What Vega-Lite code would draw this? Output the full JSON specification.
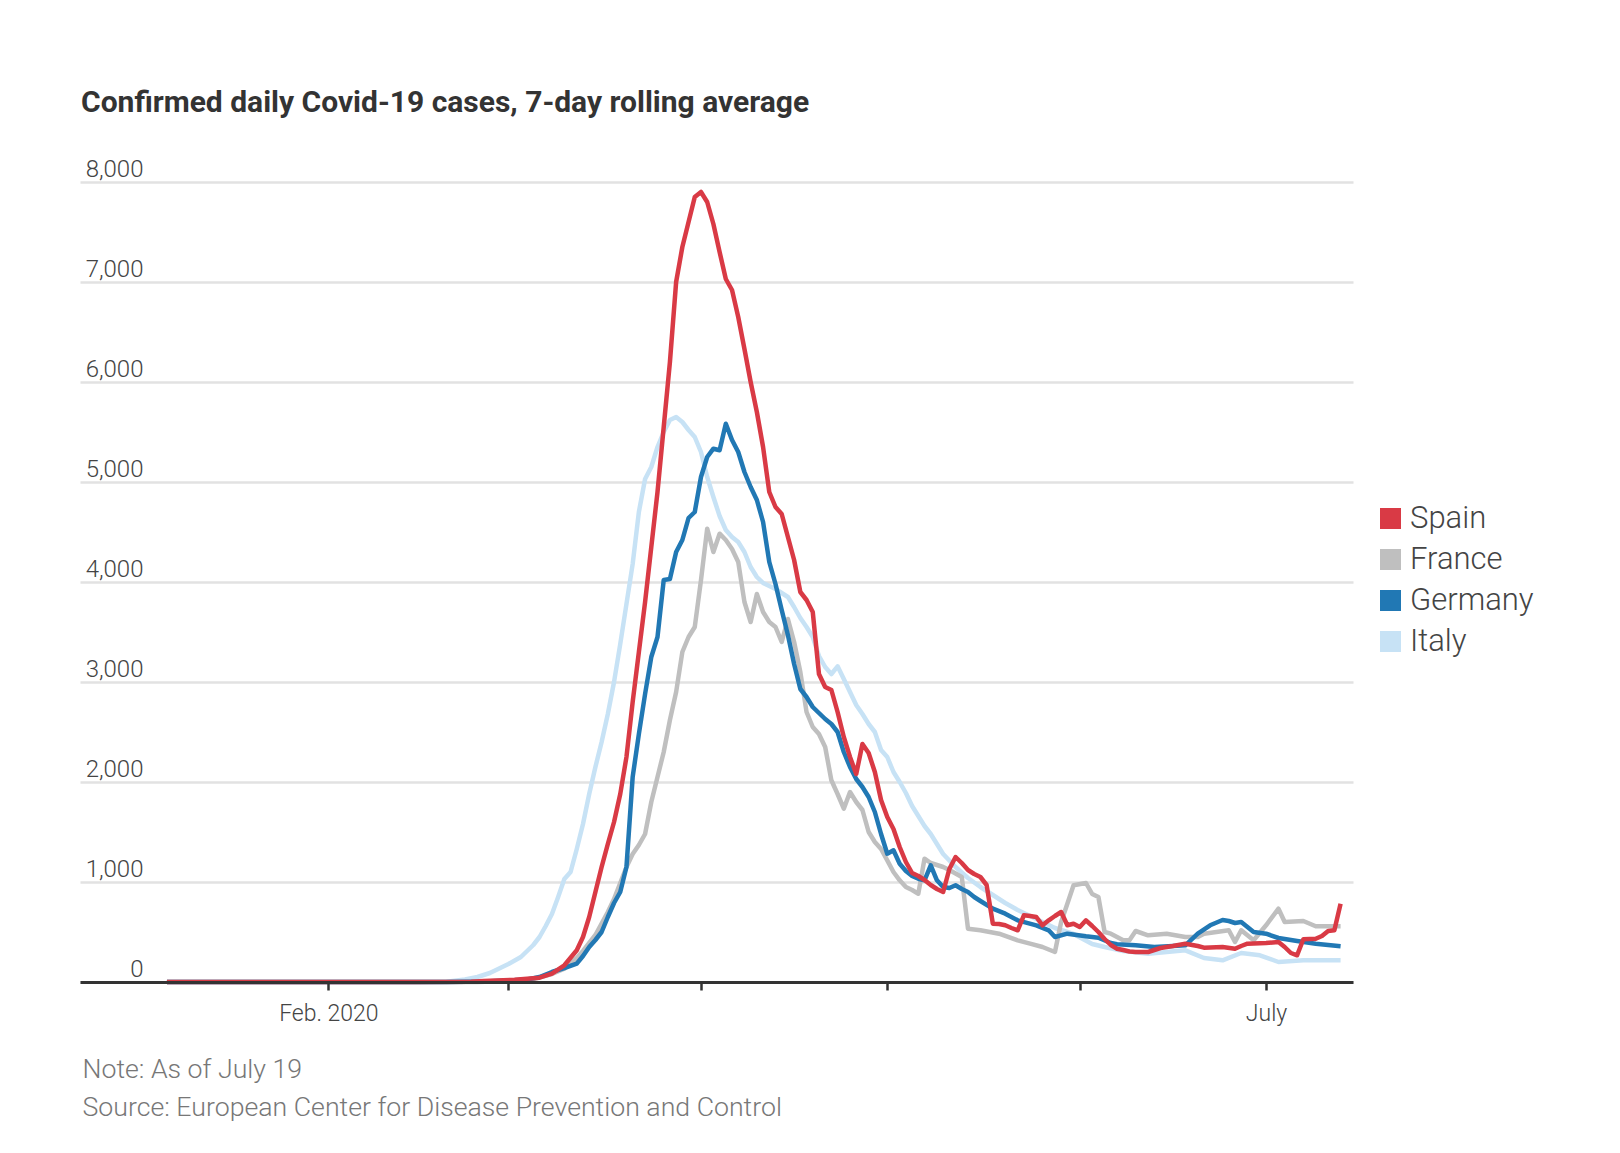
{
  "$schema": "https://vega.github.io/schema/vega-lite/v6.json",
  "width": 1273,
  "height": 800,
  "autosize": {"type": "none"},
  "padding": {"left": 80, "top": 182, "right": 267, "bottom": 171},
  "background": "white",
  "config": {"view": {"stroke": null}, "font": "Roboto"},
  "title": {
    "text": "Confirmed daily Covid-19 cases, 7-day rolling average",
    "anchor": "start",
    "frame": "group",
    "font": "Roboto",
    "fontSize": 30,
    "fontWeight": "bold",
    "color": "#333333",
    "baseline": "alphabetic",
    "offset": 15,
    "dx": 1
  },
  "datasets": {
    "series": [
      {"country": "Spain", "date": "2020-01-06", "cases": 0},
      {"country": "Spain", "date": "2020-02-15", "cases": 0},
      {"country": "Spain", "date": "2020-02-24", "cases": 3},
      {"country": "Spain", "date": "2020-02-26", "cases": 10},
      {"country": "Spain", "date": "2020-03-02", "cases": 23},
      {"country": "Spain", "date": "2020-03-06", "cases": 43},
      {"country": "Spain", "date": "2020-03-08", "cases": 83},
      {"country": "Spain", "date": "2020-03-10", "cases": 167},
      {"country": "Spain", "date": "2020-03-12", "cases": 317},
      {"country": "Spain", "date": "2020-03-13", "cases": 450},
      {"country": "Spain", "date": "2020-03-14", "cases": 650},
      {"country": "Spain", "date": "2020-03-15", "cases": 900},
      {"country": "Spain", "date": "2020-03-16", "cases": 1150},
      {"country": "Spain", "date": "2020-03-17", "cases": 1380},
      {"country": "Spain", "date": "2020-03-18", "cases": 1600},
      {"country": "Spain", "date": "2020-03-19", "cases": 1880},
      {"country": "Spain", "date": "2020-03-20", "cases": 2250},
      {"country": "Spain", "date": "2020-03-21", "cases": 2800},
      {"country": "Spain", "date": "2020-03-22", "cases": 3300},
      {"country": "Spain", "date": "2020-03-23", "cases": 3800},
      {"country": "Spain", "date": "2020-03-24", "cases": 4350},
      {"country": "Spain", "date": "2020-03-25", "cases": 4900},
      {"country": "Spain", "date": "2020-03-26", "cases": 5550},
      {"country": "Spain", "date": "2020-03-27", "cases": 6200},
      {"country": "Spain", "date": "2020-03-28", "cases": 7000},
      {"country": "Spain", "date": "2020-03-29", "cases": 7350},
      {"country": "Spain", "date": "2020-03-30", "cases": 7600},
      {"country": "Spain", "date": "2020-03-31", "cases": 7850},
      {"country": "Spain", "date": "2020-04-01", "cases": 7900},
      {"country": "Spain", "date": "2020-04-02", "cases": 7800},
      {"country": "Spain", "date": "2020-04-03", "cases": 7580},
      {"country": "Spain", "date": "2020-04-04", "cases": 7300},
      {"country": "Spain", "date": "2020-04-05", "cases": 7030},
      {"country": "Spain", "date": "2020-04-06", "cases": 6920},
      {"country": "Spain", "date": "2020-04-07", "cases": 6650},
      {"country": "Spain", "date": "2020-04-08", "cases": 6330},
      {"country": "Spain", "date": "2020-04-09", "cases": 6000},
      {"country": "Spain", "date": "2020-04-10", "cases": 5700},
      {"country": "Spain", "date": "2020-04-11", "cases": 5350},
      {"country": "Spain", "date": "2020-04-12", "cases": 4900},
      {"country": "Spain", "date": "2020-04-13", "cases": 4750},
      {"country": "Spain", "date": "2020-04-14", "cases": 4680},
      {"country": "Spain", "date": "2020-04-15", "cases": 4450},
      {"country": "Spain", "date": "2020-04-16", "cases": 4220},
      {"country": "Spain", "date": "2020-04-17", "cases": 3900},
      {"country": "Spain", "date": "2020-04-18", "cases": 3820},
      {"country": "Spain", "date": "2020-04-19", "cases": 3700},
      {"country": "Spain", "date": "2020-04-20", "cases": 3080},
      {"country": "Spain", "date": "2020-04-21", "cases": 2950},
      {"country": "Spain", "date": "2020-04-22", "cases": 2920},
      {"country": "Spain", "date": "2020-04-23", "cases": 2700},
      {"country": "Spain", "date": "2020-04-24", "cases": 2450},
      {"country": "Spain", "date": "2020-04-25", "cases": 2250},
      {"country": "Spain", "date": "2020-04-26", "cases": 2080},
      {"country": "Spain", "date": "2020-04-27", "cases": 2380},
      {"country": "Spain", "date": "2020-04-28", "cases": 2290},
      {"country": "Spain", "date": "2020-04-29", "cases": 2100},
      {"country": "Spain", "date": "2020-04-30", "cases": 1820},
      {"country": "Spain", "date": "2020-05-01", "cases": 1650},
      {"country": "Spain", "date": "2020-05-02", "cases": 1530},
      {"country": "Spain", "date": "2020-05-03", "cases": 1350},
      {"country": "Spain", "date": "2020-05-04", "cases": 1200},
      {"country": "Spain", "date": "2020-05-05", "cases": 1090},
      {"country": "Spain", "date": "2020-05-06", "cases": 1060},
      {"country": "Spain", "date": "2020-05-07", "cases": 1020},
      {"country": "Spain", "date": "2020-05-08", "cases": 970},
      {"country": "Spain", "date": "2020-05-09", "cases": 930},
      {"country": "Spain", "date": "2020-05-10", "cases": 900},
      {"country": "Spain", "date": "2020-05-11", "cases": 1130},
      {"country": "Spain", "date": "2020-05-12", "cases": 1250},
      {"country": "Spain", "date": "2020-05-13", "cases": 1190},
      {"country": "Spain", "date": "2020-05-14", "cases": 1120},
      {"country": "Spain", "date": "2020-05-15", "cases": 1080},
      {"country": "Spain", "date": "2020-05-16", "cases": 1050},
      {"country": "Spain", "date": "2020-05-17", "cases": 970},
      {"country": "Spain", "date": "2020-05-18", "cases": 583},
      {"country": "Spain", "date": "2020-05-19", "cases": 580},
      {"country": "Spain", "date": "2020-05-20", "cases": 567},
      {"country": "Spain", "date": "2020-05-21", "cases": 540},
      {"country": "Spain", "date": "2020-05-22", "cases": 517},
      {"country": "Spain", "date": "2020-05-23", "cases": 667},
      {"country": "Spain", "date": "2020-05-24", "cases": 660},
      {"country": "Spain", "date": "2020-05-25", "cases": 650},
      {"country": "Spain", "date": "2020-05-26", "cases": 567},
      {"country": "Spain", "date": "2020-05-27", "cases": 617},
      {"country": "Spain", "date": "2020-05-28", "cases": 660},
      {"country": "Spain", "date": "2020-05-29", "cases": 700},
      {"country": "Spain", "date": "2020-05-30", "cases": 567},
      {"country": "Spain", "date": "2020-05-31", "cases": 583},
      {"country": "Spain", "date": "2020-06-01", "cases": 550},
      {"country": "Spain", "date": "2020-06-02", "cases": 617},
      {"country": "Spain", "date": "2020-06-03", "cases": 560},
      {"country": "Spain", "date": "2020-06-04", "cases": 500},
      {"country": "Spain", "date": "2020-06-05", "cases": 430},
      {"country": "Spain", "date": "2020-06-06", "cases": 370},
      {"country": "Spain", "date": "2020-06-07", "cases": 333},
      {"country": "Spain", "date": "2020-06-08", "cases": 320},
      {"country": "Spain", "date": "2020-06-09", "cases": 305},
      {"country": "Spain", "date": "2020-06-10", "cases": 300},
      {"country": "Spain", "date": "2020-06-12", "cases": 300},
      {"country": "Spain", "date": "2020-06-14", "cases": 340},
      {"country": "Spain", "date": "2020-06-16", "cases": 360},
      {"country": "Spain", "date": "2020-06-18", "cases": 383},
      {"country": "Spain", "date": "2020-06-20", "cases": 360},
      {"country": "Spain", "date": "2020-06-21", "cases": 343},
      {"country": "Spain", "date": "2020-06-24", "cases": 350},
      {"country": "Spain", "date": "2020-06-26", "cases": 333},
      {"country": "Spain", "date": "2020-06-27", "cases": 360},
      {"country": "Spain", "date": "2020-06-28", "cases": 383},
      {"country": "Spain", "date": "2020-07-01", "cases": 390},
      {"country": "Spain", "date": "2020-07-03", "cases": 400},
      {"country": "Spain", "date": "2020-07-04", "cases": 350},
      {"country": "Spain", "date": "2020-07-05", "cases": 290},
      {"country": "Spain", "date": "2020-07-06", "cases": 267},
      {"country": "Spain", "date": "2020-07-07", "cases": 427},
      {"country": "Spain", "date": "2020-07-09", "cases": 433},
      {"country": "Spain", "date": "2020-07-10", "cases": 460},
      {"country": "Spain", "date": "2020-07-11", "cases": 510},
      {"country": "Spain", "date": "2020-07-12", "cases": 517},
      {"country": "Spain", "date": "2020-07-13", "cases": 783},

      {"country": "Italy", "date": "2020-01-06", "cases": 0},
      {"country": "Italy", "date": "2020-02-15", "cases": 0},
      {"country": "Italy", "date": "2020-02-20", "cases": 3},
      {"country": "Italy", "date": "2020-02-23", "cases": 25},
      {"country": "Italy", "date": "2020-02-25", "cases": 50},
      {"country": "Italy", "date": "2020-02-27", "cases": 90},
      {"country": "Italy", "date": "2020-02-28", "cases": 120},
      {"country": "Italy", "date": "2020-03-01", "cases": 180},
      {"country": "Italy", "date": "2020-03-03", "cases": 250},
      {"country": "Italy", "date": "2020-03-05", "cases": 370},
      {"country": "Italy", "date": "2020-03-06", "cases": 450},
      {"country": "Italy", "date": "2020-03-07", "cases": 560},
      {"country": "Italy", "date": "2020-03-08", "cases": 680},
      {"country": "Italy", "date": "2020-03-09", "cases": 850},
      {"country": "Italy", "date": "2020-03-10", "cases": 1030},
      {"country": "Italy", "date": "2020-03-11", "cases": 1100},
      {"country": "Italy", "date": "2020-03-12", "cases": 1330},
      {"country": "Italy", "date": "2020-03-13", "cases": 1580},
      {"country": "Italy", "date": "2020-03-14", "cases": 1880},
      {"country": "Italy", "date": "2020-03-15", "cases": 2150},
      {"country": "Italy", "date": "2020-03-16", "cases": 2400},
      {"country": "Italy", "date": "2020-03-17", "cases": 2680},
      {"country": "Italy", "date": "2020-03-18", "cases": 3000},
      {"country": "Italy", "date": "2020-03-19", "cases": 3380},
      {"country": "Italy", "date": "2020-03-20", "cases": 3780},
      {"country": "Italy", "date": "2020-03-21", "cases": 4180},
      {"country": "Italy", "date": "2020-03-22", "cases": 4700},
      {"country": "Italy", "date": "2020-03-23", "cases": 5030},
      {"country": "Italy", "date": "2020-03-24", "cases": 5150},
      {"country": "Italy", "date": "2020-03-25", "cases": 5350},
      {"country": "Italy", "date": "2020-03-26", "cases": 5500},
      {"country": "Italy", "date": "2020-03-27", "cases": 5620},
      {"country": "Italy", "date": "2020-03-28", "cases": 5650},
      {"country": "Italy", "date": "2020-03-29", "cases": 5600},
      {"country": "Italy", "date": "2020-03-30", "cases": 5520},
      {"country": "Italy", "date": "2020-03-31", "cases": 5450},
      {"country": "Italy", "date": "2020-04-01", "cases": 5300},
      {"country": "Italy", "date": "2020-04-02", "cases": 5050},
      {"country": "Italy", "date": "2020-04-03", "cases": 4850},
      {"country": "Italy", "date": "2020-04-04", "cases": 4660},
      {"country": "Italy", "date": "2020-04-05", "cases": 4520},
      {"country": "Italy", "date": "2020-04-06", "cases": 4450},
      {"country": "Italy", "date": "2020-04-07", "cases": 4400},
      {"country": "Italy", "date": "2020-04-08", "cases": 4300},
      {"country": "Italy", "date": "2020-04-09", "cases": 4150},
      {"country": "Italy", "date": "2020-04-10", "cases": 4050},
      {"country": "Italy", "date": "2020-04-11", "cases": 3990},
      {"country": "Italy", "date": "2020-04-13", "cases": 3930},
      {"country": "Italy", "date": "2020-04-15", "cases": 3850},
      {"country": "Italy", "date": "2020-04-16", "cases": 3750},
      {"country": "Italy", "date": "2020-04-17", "cases": 3640},
      {"country": "Italy", "date": "2020-04-18", "cases": 3550},
      {"country": "Italy", "date": "2020-04-19", "cases": 3450},
      {"country": "Italy", "date": "2020-04-20", "cases": 3260},
      {"country": "Italy", "date": "2020-04-21", "cases": 3150},
      {"country": "Italy", "date": "2020-04-22", "cases": 3080},
      {"country": "Italy", "date": "2020-04-23", "cases": 3157},
      {"country": "Italy", "date": "2020-04-24", "cases": 3030},
      {"country": "Italy", "date": "2020-04-25", "cases": 2900},
      {"country": "Italy", "date": "2020-04-26", "cases": 2770},
      {"country": "Italy", "date": "2020-04-27", "cases": 2680},
      {"country": "Italy", "date": "2020-04-28", "cases": 2580},
      {"country": "Italy", "date": "2020-04-29", "cases": 2500},
      {"country": "Italy", "date": "2020-04-30", "cases": 2320},
      {"country": "Italy", "date": "2020-05-01", "cases": 2250},
      {"country": "Italy", "date": "2020-05-02", "cases": 2100},
      {"country": "Italy", "date": "2020-05-03", "cases": 2000},
      {"country": "Italy", "date": "2020-05-04", "cases": 1890},
      {"country": "Italy", "date": "2020-05-05", "cases": 1760},
      {"country": "Italy", "date": "2020-05-06", "cases": 1660},
      {"country": "Italy", "date": "2020-05-07", "cases": 1560},
      {"country": "Italy", "date": "2020-05-08", "cases": 1480},
      {"country": "Italy", "date": "2020-05-09", "cases": 1380},
      {"country": "Italy", "date": "2020-05-10", "cases": 1280},
      {"country": "Italy", "date": "2020-05-12", "cases": 1150},
      {"country": "Italy", "date": "2020-05-14", "cases": 1040},
      {"country": "Italy", "date": "2020-05-16", "cases": 950},
      {"country": "Italy", "date": "2020-05-18", "cases": 870},
      {"country": "Italy", "date": "2020-05-20", "cases": 790},
      {"country": "Italy", "date": "2020-05-22", "cases": 720},
      {"country": "Italy", "date": "2020-05-25", "cases": 630},
      {"country": "Italy", "date": "2020-05-28", "cases": 540},
      {"country": "Italy", "date": "2020-05-31", "cases": 480},
      {"country": "Italy", "date": "2020-06-03", "cases": 380},
      {"country": "Italy", "date": "2020-06-05", "cases": 350},
      {"country": "Italy", "date": "2020-06-08", "cases": 310},
      {"country": "Italy", "date": "2020-06-12", "cases": 283},
      {"country": "Italy", "date": "2020-06-15", "cases": 300},
      {"country": "Italy", "date": "2020-06-18", "cases": 317},
      {"country": "Italy", "date": "2020-06-21", "cases": 240},
      {"country": "Italy", "date": "2020-06-24", "cases": 217},
      {"country": "Italy", "date": "2020-06-27", "cases": 290},
      {"country": "Italy", "date": "2020-06-30", "cases": 267},
      {"country": "Italy", "date": "2020-07-03", "cases": 200},
      {"country": "Italy", "date": "2020-07-07", "cases": 217},
      {"country": "Italy", "date": "2020-07-13", "cases": 217},

      {"country": "Germany", "date": "2020-01-06", "cases": 0},
      {"country": "Germany", "date": "2020-02-20", "cases": 0},
      {"country": "Germany", "date": "2020-02-26", "cases": 5},
      {"country": "Germany", "date": "2020-03-01", "cases": 15},
      {"country": "Germany", "date": "2020-03-04", "cases": 25},
      {"country": "Germany", "date": "2020-03-06", "cases": 50},
      {"country": "Germany", "date": "2020-03-08", "cases": 100},
      {"country": "Germany", "date": "2020-03-10", "cases": 140},
      {"country": "Germany", "date": "2020-03-12", "cases": 183},
      {"country": "Germany", "date": "2020-03-13", "cases": 260},
      {"country": "Germany", "date": "2020-03-14", "cases": 350},
      {"country": "Germany", "date": "2020-03-15", "cases": 420},
      {"country": "Germany", "date": "2020-03-16", "cases": 500},
      {"country": "Germany", "date": "2020-03-17", "cases": 650},
      {"country": "Germany", "date": "2020-03-18", "cases": 790},
      {"country": "Germany", "date": "2020-03-19", "cases": 900},
      {"country": "Germany", "date": "2020-03-20", "cases": 1150},
      {"country": "Germany", "date": "2020-03-21", "cases": 2050},
      {"country": "Germany", "date": "2020-03-22", "cases": 2480},
      {"country": "Germany", "date": "2020-03-23", "cases": 2880},
      {"country": "Germany", "date": "2020-03-24", "cases": 3250},
      {"country": "Germany", "date": "2020-03-25", "cases": 3450},
      {"country": "Germany", "date": "2020-03-26", "cases": 4020},
      {"country": "Germany", "date": "2020-03-27", "cases": 4030},
      {"country": "Germany", "date": "2020-03-28", "cases": 4300},
      {"country": "Germany", "date": "2020-03-29", "cases": 4420},
      {"country": "Germany", "date": "2020-03-30", "cases": 4640},
      {"country": "Germany", "date": "2020-03-31", "cases": 4700},
      {"country": "Germany", "date": "2020-04-01", "cases": 5050},
      {"country": "Germany", "date": "2020-04-02", "cases": 5250},
      {"country": "Germany", "date": "2020-04-03", "cases": 5333},
      {"country": "Germany", "date": "2020-04-04", "cases": 5317},
      {"country": "Germany", "date": "2020-04-05", "cases": 5583},
      {"country": "Germany", "date": "2020-04-06", "cases": 5420},
      {"country": "Germany", "date": "2020-04-07", "cases": 5300},
      {"country": "Germany", "date": "2020-04-08", "cases": 5100},
      {"country": "Germany", "date": "2020-04-09", "cases": 4950},
      {"country": "Germany", "date": "2020-04-10", "cases": 4820},
      {"country": "Germany", "date": "2020-04-11", "cases": 4600},
      {"country": "Germany", "date": "2020-04-12", "cases": 4200},
      {"country": "Germany", "date": "2020-04-13", "cases": 3980},
      {"country": "Germany", "date": "2020-04-14", "cases": 3720},
      {"country": "Germany", "date": "2020-04-15", "cases": 3470},
      {"country": "Germany", "date": "2020-04-16", "cases": 3180},
      {"country": "Germany", "date": "2020-04-17", "cases": 2930},
      {"country": "Germany", "date": "2020-04-18", "cases": 2850},
      {"country": "Germany", "date": "2020-04-19", "cases": 2750},
      {"country": "Germany", "date": "2020-04-20", "cases": 2690},
      {"country": "Germany", "date": "2020-04-21", "cases": 2630},
      {"country": "Germany", "date": "2020-04-22", "cases": 2580},
      {"country": "Germany", "date": "2020-04-23", "cases": 2500},
      {"country": "Germany", "date": "2020-04-24", "cases": 2300},
      {"country": "Germany", "date": "2020-04-25", "cases": 2150},
      {"country": "Germany", "date": "2020-04-26", "cases": 2030},
      {"country": "Germany", "date": "2020-04-27", "cases": 1950},
      {"country": "Germany", "date": "2020-04-28", "cases": 1850},
      {"country": "Germany", "date": "2020-04-29", "cases": 1700},
      {"country": "Germany", "date": "2020-04-30", "cases": 1480},
      {"country": "Germany", "date": "2020-05-01", "cases": 1283},
      {"country": "Germany", "date": "2020-05-02", "cases": 1317},
      {"country": "Germany", "date": "2020-05-03", "cases": 1183},
      {"country": "Germany", "date": "2020-05-04", "cases": 1110},
      {"country": "Germany", "date": "2020-05-05", "cases": 1060},
      {"country": "Germany", "date": "2020-05-06", "cases": 1033},
      {"country": "Germany", "date": "2020-05-07", "cases": 1017},
      {"country": "Germany", "date": "2020-05-08", "cases": 1167},
      {"country": "Germany", "date": "2020-05-09", "cases": 1017},
      {"country": "Germany", "date": "2020-05-10", "cases": 950},
      {"country": "Germany", "date": "2020-05-11", "cases": 940},
      {"country": "Germany", "date": "2020-05-12", "cases": 967},
      {"country": "Germany", "date": "2020-05-13", "cases": 930},
      {"country": "Germany", "date": "2020-05-14", "cases": 900},
      {"country": "Germany", "date": "2020-05-15", "cases": 850},
      {"country": "Germany", "date": "2020-05-16", "cases": 810},
      {"country": "Germany", "date": "2020-05-18", "cases": 733},
      {"country": "Germany", "date": "2020-05-20", "cases": 683},
      {"country": "Germany", "date": "2020-05-22", "cases": 617},
      {"country": "Germany", "date": "2020-05-25", "cases": 567},
      {"country": "Germany", "date": "2020-05-27", "cases": 517},
      {"country": "Germany", "date": "2020-05-28", "cases": 450},
      {"country": "Germany", "date": "2020-05-30", "cases": 483},
      {"country": "Germany", "date": "2020-06-02", "cases": 457},
      {"country": "Germany", "date": "2020-06-04", "cases": 443},
      {"country": "Germany", "date": "2020-06-06", "cases": 390},
      {"country": "Germany", "date": "2020-06-07", "cases": 377},
      {"country": "Germany", "date": "2020-06-10", "cases": 367},
      {"country": "Germany", "date": "2020-06-13", "cases": 350},
      {"country": "Germany", "date": "2020-06-16", "cases": 360},
      {"country": "Germany", "date": "2020-06-18", "cases": 367},
      {"country": "Germany", "date": "2020-06-20", "cases": 483},
      {"country": "Germany", "date": "2020-06-22", "cases": 567},
      {"country": "Germany", "date": "2020-06-24", "cases": 620},
      {"country": "Germany", "date": "2020-06-25", "cases": 610},
      {"country": "Germany", "date": "2020-06-26", "cases": 590},
      {"country": "Germany", "date": "2020-06-27", "cases": 600},
      {"country": "Germany", "date": "2020-06-29", "cases": 500},
      {"country": "Germany", "date": "2020-07-01", "cases": 483},
      {"country": "Germany", "date": "2020-07-03", "cases": 440},
      {"country": "Germany", "date": "2020-07-06", "cases": 410},
      {"country": "Germany", "date": "2020-07-09", "cases": 383},
      {"country": "Germany", "date": "2020-07-13", "cases": 357},

      {"country": "France", "date": "2020-01-06", "cases": 0},
      {"country": "France", "date": "2020-02-25", "cases": 0},
      {"country": "France", "date": "2020-03-01", "cases": 10},
      {"country": "France", "date": "2020-03-05", "cases": 30},
      {"country": "France", "date": "2020-03-08", "cases": 80},
      {"country": "France", "date": "2020-03-10", "cases": 133},
      {"country": "France", "date": "2020-03-12", "cases": 240},
      {"country": "France", "date": "2020-03-13", "cases": 310},
      {"country": "France", "date": "2020-03-15", "cases": 470},
      {"country": "France", "date": "2020-03-17", "cases": 700},
      {"country": "France", "date": "2020-03-18", "cases": 830},
      {"country": "France", "date": "2020-03-19", "cases": 990},
      {"country": "France", "date": "2020-03-20", "cases": 1150},
      {"country": "France", "date": "2020-03-21", "cases": 1280},
      {"country": "France", "date": "2020-03-22", "cases": 1370},
      {"country": "France", "date": "2020-03-23", "cases": 1480},
      {"country": "France", "date": "2020-03-24", "cases": 1800},
      {"country": "France", "date": "2020-03-25", "cases": 2050},
      {"country": "France", "date": "2020-03-26", "cases": 2300},
      {"country": "France", "date": "2020-03-27", "cases": 2620},
      {"country": "France", "date": "2020-03-28", "cases": 2900},
      {"country": "France", "date": "2020-03-29", "cases": 3300},
      {"country": "France", "date": "2020-03-30", "cases": 3450},
      {"country": "France", "date": "2020-03-31", "cases": 3550},
      {"country": "France", "date": "2020-04-01", "cases": 4017},
      {"country": "France", "date": "2020-04-02", "cases": 4533},
      {"country": "France", "date": "2020-04-03", "cases": 4300},
      {"country": "France", "date": "2020-04-04", "cases": 4483},
      {"country": "France", "date": "2020-04-05", "cases": 4420},
      {"country": "France", "date": "2020-04-06", "cases": 4330},
      {"country": "France", "date": "2020-04-07", "cases": 4200},
      {"country": "France", "date": "2020-04-08", "cases": 3800},
      {"country": "France", "date": "2020-04-09", "cases": 3600},
      {"country": "France", "date": "2020-04-10", "cases": 3880},
      {"country": "France", "date": "2020-04-11", "cases": 3700},
      {"country": "France", "date": "2020-04-12", "cases": 3600},
      {"country": "France", "date": "2020-04-13", "cases": 3550},
      {"country": "France", "date": "2020-04-14", "cases": 3400},
      {"country": "France", "date": "2020-04-15", "cases": 3630},
      {"country": "France", "date": "2020-04-16", "cases": 3400},
      {"country": "France", "date": "2020-04-17", "cases": 3100},
      {"country": "France", "date": "2020-04-18", "cases": 2700},
      {"country": "France", "date": "2020-04-19", "cases": 2550},
      {"country": "France", "date": "2020-04-20", "cases": 2480},
      {"country": "France", "date": "2020-04-21", "cases": 2350},
      {"country": "France", "date": "2020-04-22", "cases": 2017},
      {"country": "France", "date": "2020-04-23", "cases": 1880},
      {"country": "France", "date": "2020-04-24", "cases": 1733},
      {"country": "France", "date": "2020-04-25", "cases": 1900},
      {"country": "France", "date": "2020-04-26", "cases": 1800},
      {"country": "France", "date": "2020-04-27", "cases": 1720},
      {"country": "France", "date": "2020-04-28", "cases": 1500},
      {"country": "France", "date": "2020-04-29", "cases": 1400},
      {"country": "France", "date": "2020-04-30", "cases": 1330},
      {"country": "France", "date": "2020-05-01", "cases": 1217},
      {"country": "France", "date": "2020-05-02", "cases": 1100},
      {"country": "France", "date": "2020-05-03", "cases": 1017},
      {"country": "France", "date": "2020-05-04", "cases": 950},
      {"country": "France", "date": "2020-05-05", "cases": 920},
      {"country": "France", "date": "2020-05-06", "cases": 883},
      {"country": "France", "date": "2020-05-07", "cases": 1233},
      {"country": "France", "date": "2020-05-08", "cases": 1190},
      {"country": "France", "date": "2020-05-09", "cases": 1170},
      {"country": "France", "date": "2020-05-10", "cases": 1150},
      {"country": "France", "date": "2020-05-11", "cases": 1120},
      {"country": "France", "date": "2020-05-13", "cases": 1050},
      {"country": "France", "date": "2020-05-14", "cases": 533},
      {"country": "France", "date": "2020-05-16", "cases": 517},
      {"country": "France", "date": "2020-05-19", "cases": 483},
      {"country": "France", "date": "2020-05-22", "cases": 417},
      {"country": "France", "date": "2020-05-24", "cases": 383},
      {"country": "France", "date": "2020-05-26", "cases": 350},
      {"country": "France", "date": "2020-05-28", "cases": 300},
      {"country": "France", "date": "2020-05-29", "cases": 600},
      {"country": "France", "date": "2020-05-30", "cases": 783},
      {"country": "France", "date": "2020-05-31", "cases": 967},
      {"country": "France", "date": "2020-06-02", "cases": 990},
      {"country": "France", "date": "2020-06-03", "cases": 880},
      {"country": "France", "date": "2020-06-04", "cases": 850},
      {"country": "France", "date": "2020-06-05", "cases": 500},
      {"country": "France", "date": "2020-06-06", "cases": 483},
      {"country": "France", "date": "2020-06-08", "cases": 417},
      {"country": "France", "date": "2020-06-09", "cases": 417},
      {"country": "France", "date": "2020-06-10", "cases": 510},
      {"country": "France", "date": "2020-06-12", "cases": 467},
      {"country": "France", "date": "2020-06-15", "cases": 483},
      {"country": "France", "date": "2020-06-18", "cases": 450},
      {"country": "France", "date": "2020-06-20", "cases": 450},
      {"country": "France", "date": "2020-06-21", "cases": 483},
      {"country": "France", "date": "2020-06-23", "cases": 500},
      {"country": "France", "date": "2020-06-25", "cases": 517},
      {"country": "France", "date": "2020-06-26", "cases": 400},
      {"country": "France", "date": "2020-06-27", "cases": 517},
      {"country": "France", "date": "2020-06-29", "cases": 417},
      {"country": "France", "date": "2020-07-01", "cases": 567},
      {"country": "France", "date": "2020-07-03", "cases": 733},
      {"country": "France", "date": "2020-07-04", "cases": 600},
      {"country": "France", "date": "2020-07-07", "cases": 610},
      {"country": "France", "date": "2020-07-09", "cases": 557},
      {"country": "France", "date": "2020-07-13", "cases": 557}
    ]
  },
  "data": {"name": "series"},
  "encoding": {
    "x": {
      "field": "date",
      "type": "temporal",
      "scale": {"type": "utc", "domain": [{"year": 2019, "month": 12, "date": 23, "utc": true}, {"year": 2020, "month": 7, "date": 15, "utc": true}]},
      "axis": {
        "title": ["Note: As of July 19", "Source: European Center for Disease Prevention and Control"],
        "titleAnchor": "start",
        "titleAlign": "left",
        "titleBaseline": "alphabetic",
        "titleX": 2,
        "titleY": 95,
        "titleLineHeight": 38,
        "titleFont": "Roboto",
        "titleFontSize": 26.7,
        "titleFontWeight": 300,
        "titleColor": "#777777",
        "values": [
          {"year": 2020, "month": 2, "date": 1, "utc": true},
          {"year": 2020, "month": 3, "date": 1, "utc": true},
          {"year": 2020, "month": 4, "date": 1, "utc": true},
          {"year": 2020, "month": 5, "date": 1, "utc": true},
          {"year": 2020, "month": 6, "date": 1, "utc": true},
          {"year": 2020, "month": 7, "date": 1, "utc": true}
        ],
        "labelExpr": "utcmonth(datum.value) == 1 ? 'Feb. 2020' : (utcmonth(datum.value) == 6 ? 'July' : '')",
        "labelFont": "Roboto",
        "labelFontSize": 23,
        "labelFontWeight": 300,
        "labelColor": "#444444",
        "labelPadding": 12,
        "labelFlush": false,
        "labelOverlap": false,
        "grid": false,
        "ticks": true,
        "tickSize": 8,
        "tickWidth": 2.5,
        "tickColor": "#333333",
        "domain": true,
        "domainColor": "#333333",
        "domainWidth": 3,
        "zindex": 1
      }
    },
    "y": {
      "field": "cases",
      "type": "quantitative",
      "scale": {"domain": [0, 8000], "nice": false},
      "axis": {
        "title": null,
        "values": [0, 1000, 2000, 3000, 4000, 5000, 6000, 7000, 8000],
        "format": ",d",
        "domain": false,
        "ticks": false,
        "tickSize": 0,
        "grid": true,
        "gridColor": "#e2e2e2",
        "gridWidth": 2.5,
        "labelAlign": "right",
        "labelBaseline": "alphabetic",
        "labelPadding": -63,
        "labelOffset": -6,
        "labelFont": "Roboto",
        "labelFontSize": 24,
        "labelFontWeight": 300,
        "labelColor": "#444444"
      }
    },
    "color": {
      "field": "country",
      "type": "nominal",
      "scale": {
        "domain": ["Spain", "France", "Germany", "Italy"],
        "range": ["#d93a45", "#bfbfbf", "#2178b4", "#c7e2f5"]
      },
      "legend": {
        "title": null,
        "orient": "none",
        "legendX": 1295,
        "legendY": 321,
        "symbolType": "square",
        "symbolSize": 441,
        "labelFont": "Roboto",
        "labelFontSize": 31,
        "labelFontWeight": 300,
        "labelColor": "#444444",
        "labelOffset": 4,
        "rowPadding": 9,
        "padding": 0,
        "encode": {
          "symbols": {
            "update": {
              "fill": {"scale": "color", "field": "value"},
              "fillOpacity": {"value": 1},
              "strokeWidth": {"value": 0}
            }
          }
        }
      }
    }
  },
  "layer": [
    {"transform": [{"filter": "datum.country == 'Italy'"}], "mark": {"type": "line", "strokeWidth": 4.5, "strokeJoin": "round"}},
    {"transform": [{"filter": "datum.country == 'France'"}], "mark": {"type": "line", "strokeWidth": 4.5, "strokeJoin": "round"}},
    {"transform": [{"filter": "datum.country == 'Germany'"}], "mark": {"type": "line", "strokeWidth": 4.5, "strokeJoin": "round"}},
    {"transform": [{"filter": "datum.country == 'Spain'"}], "mark": {"type": "line", "strokeWidth": 4.5, "strokeJoin": "round"}}
  ]
}
